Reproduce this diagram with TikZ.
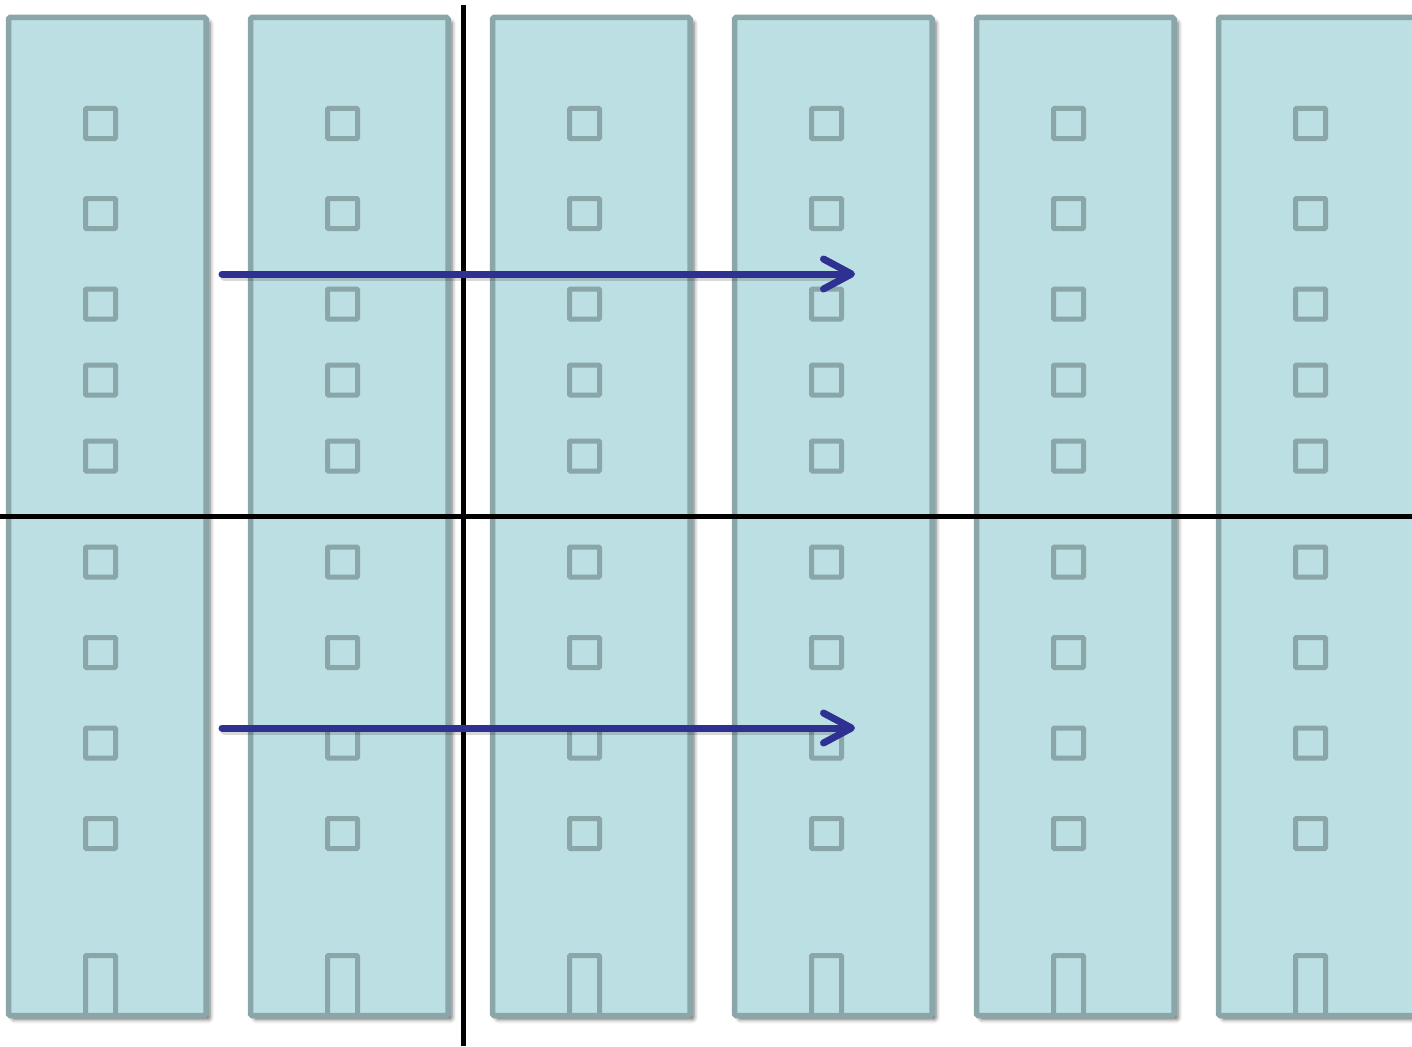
\documentclass[tikz,border=0pt]{standalone}
\usetikzlibrary{arrows.meta,shadows.blur}
\definecolor{bfill}{RGB}{187,223,226}
\definecolor{bline}{RGB}{138,166,168}
\definecolor{arrc}{RGB}{46,49,146}
\tikzset{
  bldg/.style={draw=bline, fill=bfill, line width=5.5pt, rounded corners=1.5pt, rectangle,
    minimum width=197.5pt, minimum height=998pt, inner sep=0pt, outer sep=0pt, anchor=north west,
    blur shadow={shadow xshift=4pt, shadow yshift=-4pt, shadow blur radius=4pt, shadow opacity=60}},
  win/.style={draw=bline, line width=5pt, rounded corners=1pt, rectangle,
    minimum size=30pt, inner sep=0pt, outer sep=0pt},
  doorline/.style={draw=bline, line width=5pt, rounded corners=1pt},
  axisline/.style={draw=black, line width=5pt},
  arr/.style={draw=arrc, line width=7pt, line cap=round,
    -{Straight Barb[length=28pt, width=30pt, line cap=round, line join=round]}},
  arrshadow/.style={draw=black, opacity=0.15, line width=7pt, line cap=round}
}
\begin{document}
\begin{tikzpicture}[x=1pt,y=-1pt]
\useasboundingbox (0,0) rectangle (1412,1046);
\clip (0,0) rectangle (1412,1046);
\foreach \i in {0,...,5} {
  \pgfmathsetmacro\bx{8.5+242*\i}
  \pgfmathsetmacro\wx{\bx+92}
  \node[bldg] (b\i) at (\bx,17.5) {};
  \foreach \wy [count=\k] in {123.5,213.5,304,380,456,562,652.5,743,833.5} {
    \node[win] (w\i-\k) at (\wx,\wy) {};
  }
  \draw[doorline] (\wx-15,1015.5) -- (\wx-15,955.5) -- (\wx+15,955.5) -- (\wx+15,1015.5);
}
\coordinate (vtop) at (463,5);
\coordinate (vbot) at (463,1046);
\coordinate (hl) at (0,516);
\coordinate (hr) at (1412,516);
\draw[axisline] (vtop) -- (vbot);
\draw[axisline] (hl) -- (hr);
\coordinate (a1s) at (222,274);
\coordinate (a1e) at (855,274);
\coordinate (a2s) at (222,728);
\coordinate (a2e) at (855,728);
\draw[arrshadow] ([shift={(2,3)}]a1s) -- ([shift={(-20,3)}]a1e);
\draw[arrshadow] ([shift={(2,3)}]a2s) -- ([shift={(-20,3)}]a2e);
\draw[arr] (a1s) -- (a1e);
\draw[arr] (a2s) -- (a2e);
\end{tikzpicture}
\end{document}
